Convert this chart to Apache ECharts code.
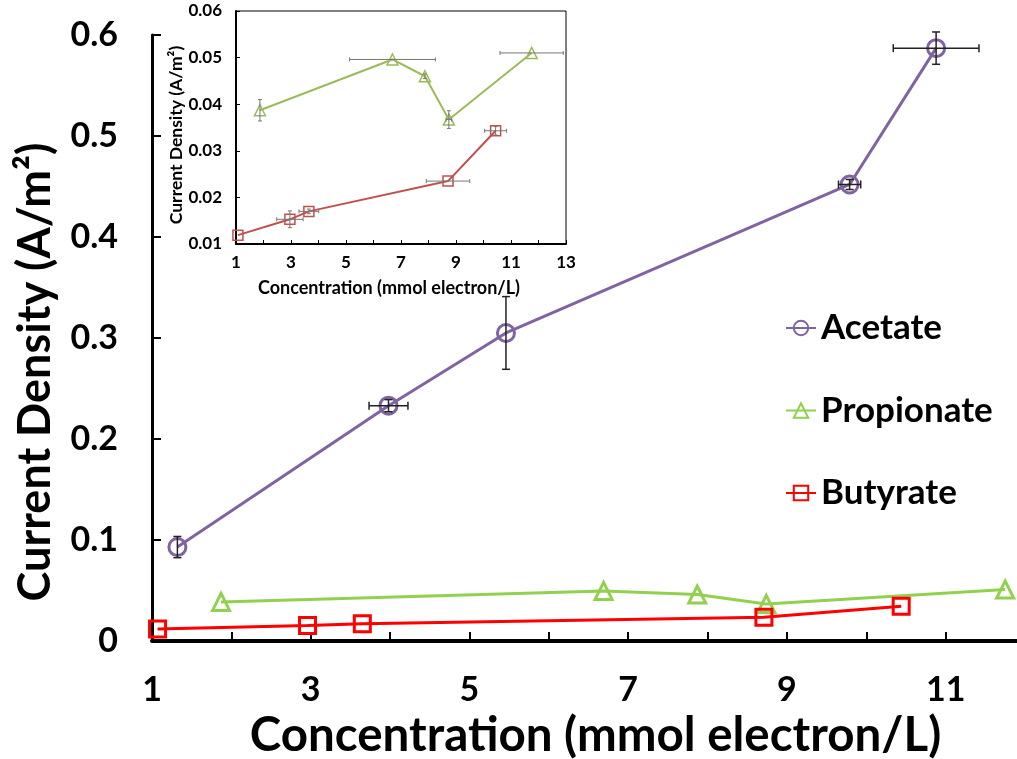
<!DOCTYPE html>
<html>
<head>
<meta charset="utf-8">
<script src="https://cdn.jsdelivr.net/npm/echarts@6/dist/echarts.min.js"></script>
<style>html,body{margin:0;padding:0;background:#fff}#c{width:1017px;height:759px}</style>
</head>
<body>
<div id="c"></div>
<script>
// ---- data ----
const acetateX = [1.32, 3.98, 5.46, 9.79, 10.88];
const acetateY = [0.093, 0.233, 0.305, 0.452, 0.587];
const acetateXErr = [0, 0.245, 0, 0.14, 0.54];
const acetateYErr = [0.0105, 0.006, 0.036, 0.005, 0.016];

const propionateX = [1.87, 6.69, 7.87, 8.74, 11.75];
const propionateY = [0.0387, 0.0496, 0.0460, 0.0367, 0.0510];
const propionateXErr = [0, 1.56, 0, 0.1, 1.15];
const propionateYErr = [0.0023, 0, 0.0005, 0.0019, 0];

const butyrateX = [1.07, 2.96, 3.65, 8.71, 10.44];
const butyrateY = [0.0119, 0.0153, 0.0170, 0.0235, 0.0343];
const butyrateXErr = [0, 0.48, 0.36, 0.79, 0.4];
const butyrateYErr = [0, 0.0018, 0.0005, 0, 0.0009];

const seriesNames = ['Acetate', 'Propionate', 'Butyrate'];
const xTitle = 'Concentration (mmol electron/L)';
const yTitle = 'Current Density (A/m\u00B2)';

// ---- helpers ----
const pts = (xs, ys) => xs.map((x, i) => [x, ys[i]]);
const errPts = (xs, ys, xe, ye) => xs.map((x, i) => [x, ys[i], xe[i], ye[i]]);
const FONT = 'Lato';

function errRender(color, cap, width) {
  return function (params, api) {
    const x = api.value(0), y = api.value(1), xe = api.value(2), ye = api.value(3);
    const children = [];
    const st = { stroke: color, lineWidth: width };
    if (xe > 0) {
      const l = api.coord([x - xe, y]), r = api.coord([x + xe, y]);
      children.push({ type: 'line', shape: { x1: l[0], y1: l[1], x2: r[0], y2: r[1] }, style: st });
      children.push({ type: 'line', shape: { x1: l[0], y1: l[1] - cap, x2: l[0], y2: l[1] + cap }, style: st });
      children.push({ type: 'line', shape: { x1: r[0], y1: r[1] - cap, x2: r[0], y2: r[1] + cap }, style: st });
    }
    if (ye > 0) {
      const t = api.coord([x, y + ye]), b = api.coord([x, y - ye]);
      children.push({ type: 'line', shape: { x1: t[0], y1: t[1], x2: b[0], y2: b[1] }, style: st });
      children.push({ type: 'line', shape: { x1: t[0] - cap, y1: t[1], x2: t[0] + cap, y2: t[1] }, style: st });
      children.push({ type: 'line', shape: { x1: b[0] - cap, y1: b[1], x2: b[0] + cap, y2: b[1] }, style: st });
    }
    return { type: 'group', children };
  };
}

const oddFmt = v => (Math.round(v) % 2 === 1 ? String(Math.round(v)) : '');

const chart = echarts.init(document.getElementById('c'), null, { renderer: 'canvas' });
const option = {
  animation: false,
  backgroundColor: '#fff',
  grid: [
    { left: 152, top: 35, height: 606, width: 873, containLabel: false, outerBoundsMode: 'none' },
    { left: 236, top: 11, width: 330, height: 233, outerBoundsMode: 'none', show: true, backgroundColor: '#fff', borderColor: '#000', borderWidth: 1, z: 5 }
  ],
  graphic: [
    {
      type: 'text', x: 35, y: 372, rotation: Math.PI / 2, z: 10,
      style: { text: yTitle, fill: '#000', font: 'bold 45px Lato', align: 'center', verticalAlign: 'middle' }
    },
    {
      type: 'text', x: 176, y: 135, rotation: Math.PI / 2, z: 10,
      style: { text: yTitle, fill: '#000', font: 'bold 17.5px Lato', align: 'center', verticalAlign: 'middle' }
    },
    {
      type: 'text', x: 389, y: 288, z: 10,
      style: { text: xTitle, fill: '#000', font: 'bold 18px Lato', align: 'center', verticalAlign: 'middle' }
    }
  ],
  xAxis: [
    {
      gridIndex: 0, type: 'value', min: 1, max: 12, interval: 1,
      axisLine: { lineStyle: { color: '#000', width: 4 } },
      axisTick: { inside: true, length: 9, lineStyle: { color: '#000', width: 2 } },
      axisLabel: { formatter: oddFmt, color: '#000', fontFamily: FONT, fontWeight: 'bold', fontSize: 34, margin: 32 },
      splitLine: { show: false },
      name: xTitle, nameLocation: 'middle', nameGap: 65,
      nameTextStyle: { color: '#000', fontFamily: FONT, fontWeight: 'bold', fontSize: 47.5, padding: [0, 0, 0, 14] }
    },
    {
      gridIndex: 1, type: 'value', min: 1, max: 13, interval: 1,
      axisLine: { lineStyle: { color: '#000', width: 2 } },
      axisTick: { inside: true, length: 4, lineStyle: { color: '#000', width: 1 } },
      axisLabel: { formatter: oddFmt, color: '#000', fontFamily: FONT, fontWeight: 'bold', fontSize: 17, margin: 10 },
      splitLine: { show: false },
      z: 6
    }
  ],
  yAxis: [
    {
      gridIndex: 0, type: 'value', min: 0, max: 0.6, interval: 0.1,
      axisLine: { show: true, lineStyle: { color: '#000', width: 3 } },
      axisTick: { show: true, inside: true, length: 9, lineStyle: { color: '#000', width: 2 } },
      axisLabel: { formatter: v => (v === 0 ? '0' : v.toFixed(1)), color: '#000', fontFamily: FONT, fontWeight: 'bold', fontSize: 34, margin: 34 },
      splitLine: { show: false }
    },
    {
      gridIndex: 1, type: 'value', min: 0.01, max: 0.06, interval: 0.01,
      axisLine: { show: true, lineStyle: { color: '#000', width: 2 } },
      axisTick: { show: true, inside: true, length: 4, lineStyle: { color: '#000', width: 1 } },
      axisLabel: { formatter: v => v.toFixed(2), color: '#000', fontFamily: FONT, fontWeight: 'bold', fontSize: 17, margin: 14 },
      splitLine: { show: false },
      z: 6
    }
  ],
  legend: {
    data: seriesNames,
    orient: 'vertical', left: 785, top: 310, padding: 0,
    itemWidth: 30, itemHeight: 18, itemGap: 46.5,
    textStyle: { color: '#000', fontFamily: FONT, fontWeight: 'bold', fontSize: 35, lineHeight: 36 }
  },
  series: [
    {
      name: 'Acetate', type: 'line', xAxisIndex: 0, yAxisIndex: 0, data: pts(acetateX, acetateY),
      symbol: 'circle', symbolSize: 17,
      lineStyle: { color: '#8064A2', width: 3 },
      itemStyle: { color: 'rgba(255,255,255,0)', borderColor: '#8064A2', borderWidth: 3 }, z: 3
    },
    {
      name: 'Propionate', type: 'line', xAxisIndex: 0, yAxisIndex: 0, data: pts(propionateX, propionateY),
      symbol: 'triangle', symbolSize: 17,
      lineStyle: { color: '#92D050', width: 3 },
      itemStyle: { color: 'rgba(255,255,255,0)', borderColor: '#92D050', borderWidth: 3 }, z: 3
    },
    {
      name: 'Butyrate', type: 'line', xAxisIndex: 0, yAxisIndex: 0, data: pts(butyrateX, butyrateY),
      symbol: 'rect', symbolSize: 16,
      lineStyle: { color: '#FF0000', width: 3 },
      itemStyle: { color: 'rgba(255,255,255,0)', borderColor: '#FF0000', borderWidth: 3 }, z: 3
    },
    {
      name: 'Acetate error', type: 'custom', xAxisIndex: 0, yAxisIndex: 0,
      data: errPts(acetateX, acetateY, acetateXErr, acetateYErr),
      encode: { x: 0, y: 1 }, renderItem: errRender('#222', 4, 1.5), z: 4, clip: false
    },
    {
      name: 'Propionate inset', type: 'line', xAxisIndex: 1, yAxisIndex: 1, data: pts(propionateX, propionateY),
      symbol: 'triangle', symbolSize: 11,
      lineStyle: { color: '#9BBB59', width: 2 },
      itemStyle: { color: 'rgba(255,255,255,0)', borderColor: '#9BBB59', borderWidth: 1.5 }, z: 8
    },
    {
      name: 'Butyrate inset', type: 'line', xAxisIndex: 1, yAxisIndex: 1, data: pts(butyrateX, butyrateY),
      symbol: 'rect', symbolSize: 10,
      lineStyle: { color: '#C0504D', width: 2 },
      itemStyle: { color: 'rgba(255,255,255,0)', borderColor: '#C0504D', borderWidth: 1.5 }, z: 8
    },
    {
      name: 'Propionate inset error', type: 'custom', xAxisIndex: 1, yAxisIndex: 1,
      data: errPts(propionateX, propionateY, propionateXErr, propionateYErr),
      encode: { x: 0, y: 1 }, renderItem: errRender('#777', 2, 1), z: 9, clip: false
    },
    {
      name: 'Butyrate inset error', type: 'custom', xAxisIndex: 1, yAxisIndex: 1,
      data: errPts(butyrateX, butyrateY, butyrateXErr, butyrateYErr),
      encode: { x: 0, y: 1 }, renderItem: errRender('#777', 2, 1), z: 9, clip: false
    }
  ]
};
chart.setOption(option);
</script>
</body>
</html>
